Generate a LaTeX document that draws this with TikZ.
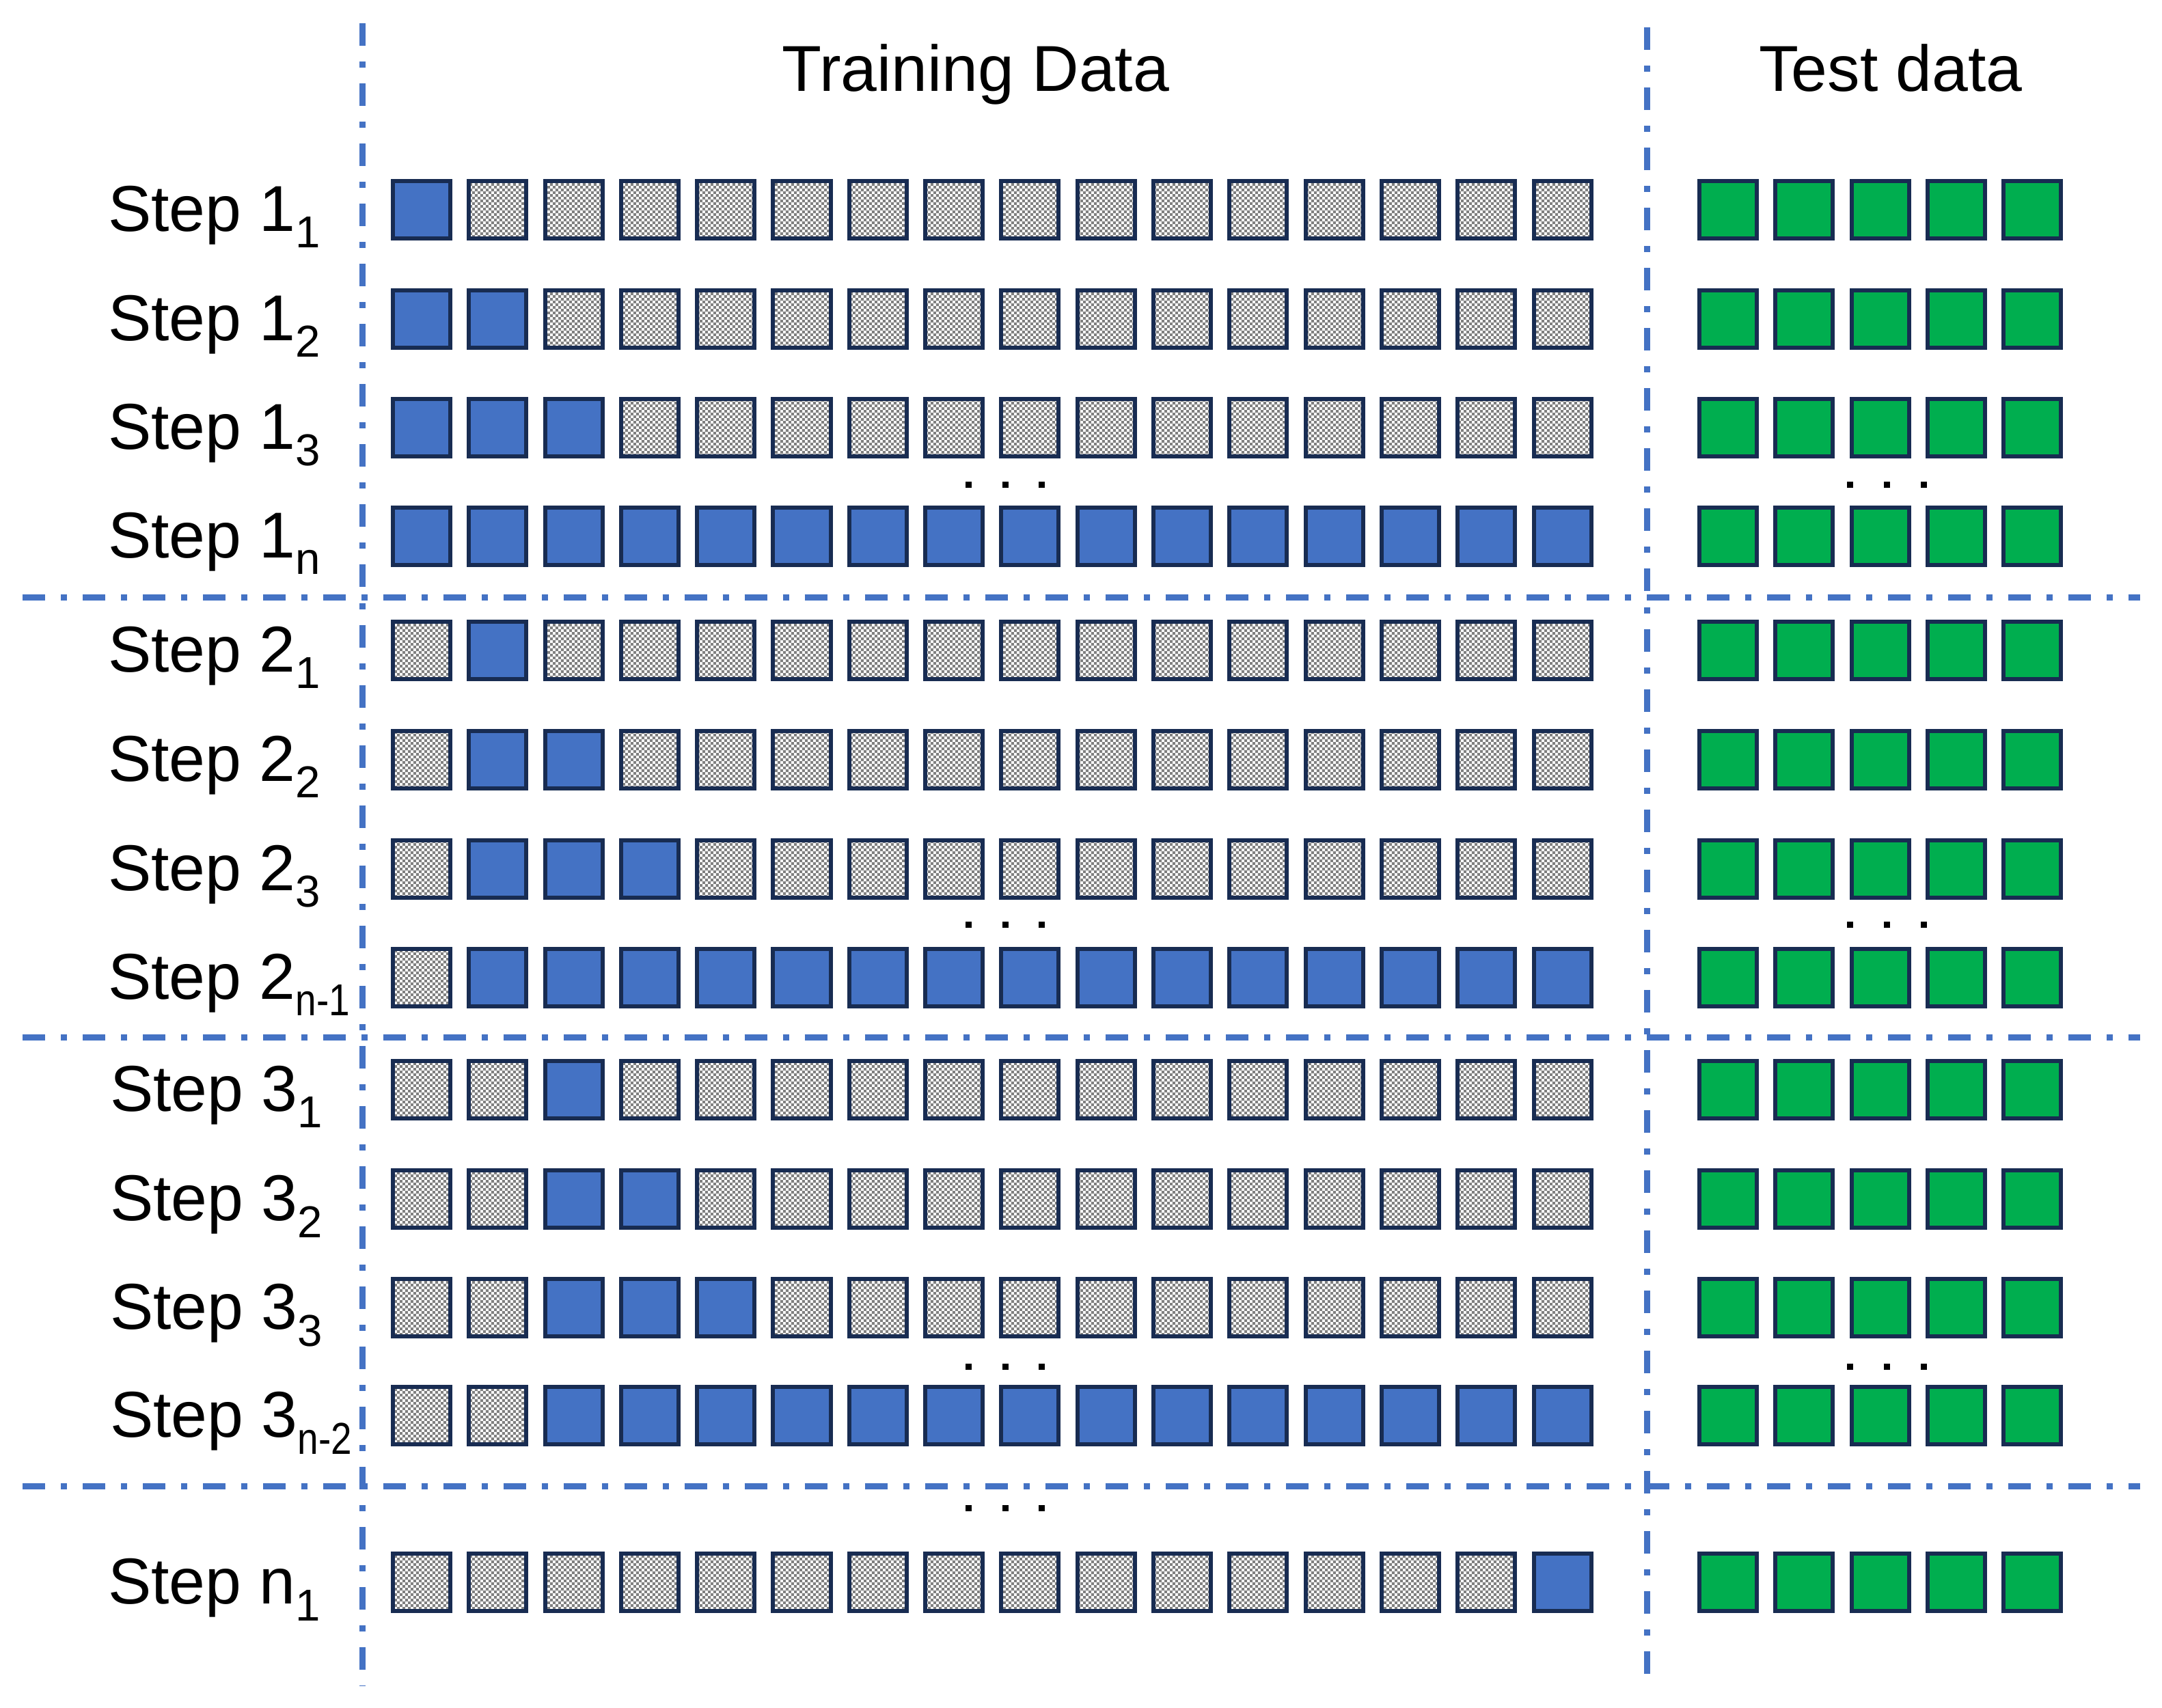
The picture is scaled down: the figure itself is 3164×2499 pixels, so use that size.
\documentclass[tikz,border=0pt]{standalone}
\usepackage{graphicx}
\usepackage{fontspec}
\setmainfont{Liberation Sans}
\usetikzlibrary{patterns}
\pgfdeclarepatternformonly{finecheck}{\pgfqpoint{0pt}{0pt}}{\pgfqpoint{2.4pt}{2.4pt}}{\pgfqpoint{2.4pt}{2.4pt}}{%
  \pgfpathrectangle{\pgfqpoint{0pt}{0pt}}{\pgfqpoint{1.2pt}{1.2pt}}%
  \pgfpathrectangle{\pgfqpoint{1.2pt}{1.2pt}}{\pgfqpoint{1.2pt}{1.2pt}}%
  \pgfusepath{fill}}
\definecolor{navy}{HTML}{182C52}
\definecolor{offblue}{HTML}{4472C4}
\definecolor{offgreen}{HTML}{00AE4F}
\newcommand{\stepl}[2]{Step #1\raisebox{-7.1pt}{\fontsize{18.6pt}{20pt}\selectfont #2}}
\newcommand{\narrowsub}[1]{\scalebox{0.84}[1]{#1}}
\tikzset{
  basebox/.style={draw=navy, line width=0.06cm, minimum size=0.84cm, inner sep=0pt, outer sep=0pt},
  gbox/.style={basebox, pattern=finecheck, pattern color=gray},
  bbox/.style={basebox, fill=offblue},
  ebox/.style={basebox, fill=offgreen},
  sep/.style={draw=offblue, line width=0.095cm, dash pattern=on 0.33cm off 0.23cm on 0.09cm off 0.23cm},
  dotsq/.style={fill=black, minimum size=0.09cm, inner sep=0pt, outer sep=0pt},
  lab/.style={inner sep=0pt, outer sep=0pt, anchor=base west, font=\fontsize{27pt}{32pt}\selectfont},
  ttl/.style={inner sep=0pt, outer sep=0pt, anchor=base, font=\fontsize{27pt}{32pt}\selectfont}
}
\begin{document}
\begin{tikzpicture}[x=0.01cm, y=-0.01cm]
\useasboundingbox (0,0) rectangle (3164,2499);

% titles
\node[ttl] (train) at (1428,133) {Training Data};
\node[ttl] (test) at (2767,133) {Test data};

% separators
\coordinate (vl-top) at (530.5,34);
\coordinate (vl-bot) at (530.5,2468);
\coordinate (vr-top) at (2410.5,40);
\coordinate (vr-bot) at (2410.5,2468);
\draw[sep] (vl-top) -- (vl-bot);
\draw[sep] (vr-top) -- (vr-bot);
\coordinate (h1-l) at (33,874.5);
\coordinate (h1-r) at (3132,874.5);
\coordinate (h2-l) at (33,1518.5);
\coordinate (h2-r) at (3132,1518.5);
\coordinate (h3-l) at (33,2175.5);
\coordinate (h3-r) at (3132,2175.5);
\draw[sep] (h1-l) -- (h1-r);
\draw[sep] (h2-l) -- (h2-r);
\draw[sep] (h3-l) -- (h3-r);

% boxes
\foreach \r/\t/\s/\e in {1/262/0/0, 2/422/0/1, 3/581/0/2, 4/740/0/15,
                          5/907/1/1, 6/1067/1/2, 7/1227/1/3, 8/1386/1/15,
                          9/1550/2/2, 10/1710/2/3, 11/1869/2/4, 12/2027/2/15,
                          13/2271/15/15}{
  \foreach \c in {0,...,15}{
    \pgfmathtruncatemacro{\isblue}{(\c>=\s)&&(\c<=\e)}
    \ifnum\isblue=1
      \node[bbox] (t\r-\c) at ({617+111.3*\c},{\t+45}) {};
    \else
      \node[gbox] (t\r-\c) at ({617+111.3*\c},{\t+45}) {};
    \fi
  }
  \foreach \c in {0,...,4}{
    \node[ebox] (g\r-\c) at ({2529+111.3*\c},{\t+45}) {};
  }
}

% labels
\node[lab] (l1) at (158,338) {\stepl{1}{1}};
\node[lab] (l2) at (158,498) {\stepl{1}{2}};
\node[lab] (l3) at (158,657) {\stepl{1}{3}};
\node[lab] (l4) at (158,816) {\stepl{1}{n}};
\node[lab] (l5) at (158,983) {\stepl{2}{1}};
\node[lab] (l6) at (158,1143) {\stepl{2}{2}};
\node[lab] (l7) at (158,1303) {\stepl{2}{3}};
\node[lab] (l8) at (158,1462) {\stepl{2}{\narrowsub{n-1}}};
\node[lab] (l9) at (161,1626) {\stepl{3}{1}};
\node[lab] (l10) at (161,1786) {\stepl{3}{2}};
\node[lab] (l11) at (161,1945) {\stepl{3}{3}};
\node[lab] (l12) at (161,2103) {\stepl{3}{\narrowsub{n-2}}};
\node[lab] (l13) at (158,2347) {\stepl{n}{1}};

% ellipsis dots
\foreach \k/\yy in {1/709.5, 2/1353, 3/2000, 4/2207}{
  \node[dotsq] (da\k) at (1417.5,\yy) {};
  \node[dotsq] (db\k) at (1471.5,\yy) {};
  \node[dotsq] (dc\k) at (1524.5,\yy) {};
}
\foreach \k/\yy in {1/709.5, 2/1353, 3/2000}{
  \node[dotsq] (ea\k) at (2707,\yy) {};
  \node[dotsq] (eb\k) at (2761,\yy) {};
  \node[dotsq] (ec\k) at (2815,\yy) {};
}
\end{tikzpicture}
\end{document}
